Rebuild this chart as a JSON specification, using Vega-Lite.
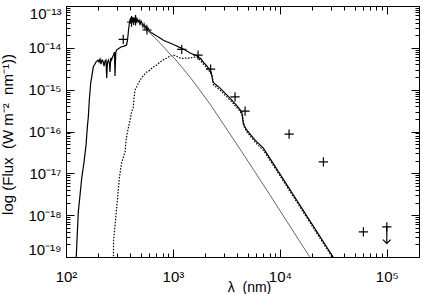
{
  "$schema": "https://vega.github.io/schema/vega-lite/v6.json",
  "width": 353,
  "height": 251,
  "autosize": {"type": "none"},
  "padding": {"left": 66, "top": 6, "right": 2, "bottom": 37},
  "background": "white",
  "config": {"view": {"stroke": null}},
  "datasets": {
    "solid": [
      {"lam":124.0,"flux":7.5e-20},{"lam":130.3,"flux":1.18e-18},{"lam":135.2,"flux":3.0e-18},{"lam":140.3,"flux":7.7e-18},{"lam":147.4,"flux":1.85e-17},{"lam":153.9,"flux":4.73e-17},{"lam":158.9,"flux":1.42e-16},{"lam":161.7,"flux":2.21e-16},{"lam":165.2,"flux":5.64e-16},{"lam":170.2,"flux":1.44e-15},{"lam":180.0,"flux":3.47e-15},{"lam":190.8,"flux":4.57e-15},{"lam":199.3,"flux":5.11e-15},{"lam":203.6,"flux":4.57e-15},{"lam":208.0,"flux":5.40e-15},{"lam":212.5,"flux":4.10e-15},{"lam":217.2,"flux":5.11e-15},{"lam":221.9,"flux":4.83e-15},{"lam":226.7,"flux":3.67e-15},{"lam":231.6,"flux":4.83e-15},{"lam":236.6,"flux":5.11e-15},{"lam":240.2,"flux":1.89e-15},{"lam":244.4,"flux":4.57e-15},{"lam":249.7,"flux":5.11e-15},{"lam":255.2,"flux":4.10e-15},{"lam":257.9,"flux":2.64e-15},{"lam":261.8,"flux":5.70e-15},{"lam":266.4,"flux":5.11e-15},{"lam":272.3,"flux":6.02e-15},{"lam":278.2,"flux":6.72e-15},{"lam":284.2,"flux":7.93e-15},{"lam":287.3,"flux":2.12e-15},{"lam":291.7,"flux":7.51e-15},{"lam":296.8,"flux":8.86e-15},{"lam":306.6,"flux":9.36e-15},{"lam":327.0,"flux":1.045e-14},{"lam":348.9,"flux":1.10e-14},{"lam":368.2,"flux":1.17e-14},{"lam":376.2,"flux":1.54e-14},{"lam":384.4,"flux":2.67e-14},{"lam":392.7,"flux":4.14e-14},{"lam":401.3,"flux":5.16e-14},{"lam":405.6,"flux":3.71e-14},{"lam":410.0,"flux":5.77e-14},{"lam":414.5,"flux":4.14e-14},{"lam":423.4,"flux":5.46e-14},{"lam":428.0,"flux":3.51e-14},{"lam":432.7,"flux":5.16e-14},{"lam":442.1,"flux":4.38e-14},{"lam":446.9,"flux":6.09e-14},{"lam":451.7,"flux":3.92e-14},{"lam":461.5,"flux":4.89e-14},{"lam":471.6,"flux":4.14e-14},{"lam":481.8,"flux":4.62e-14},{"lam":492.3,"flux":3.51e-14},{"lam":503.0,"flux":4.38e-14},{"lam":513.9,"flux":3.92e-14},{"lam":525.1,"flux":3.15e-14},{"lam":536.8,"flux":3.71e-14},{"lam":548.3,"flux":2.82e-14},{"lam":560.2,"flux":3.32e-14},{"lam":572.4,"flux":2.67e-14},{"lam":584.9,"flux":2.98e-14},{"lam":610.6,"flux":2.43e-14},{"lam":680.0,"flux":2.02e-14},{"lam":757.3,"flux":1.716e-14},{"lam":808.0,"flux":1.537e-14},{"lam":862.0,"flux":1.415e-14},{"lam":939.6,"flux":1.302e-14},{"lam":1046,"flux":1.154e-14},{"lam":1209,"flux":9.73e-15},{"lam":1327,"flux":8.62e-15},{"lam":1445,"flux":7.51e-15},{"lam":1610,"flux":6.72e-15},{"lam":1717,"flux":6.19e-15},{"lam":1832,"flux":5.40e-15},{"lam":1954,"flux":4.33e-15},{"lam":2084,"flux":3.67e-15},{"lam":2223,"flux":2.94e-15},{"lam":2272,"flux":2.64e-15},{"lam":2372,"flux":1.52e-15},{"lam":2477,"flux":1.36e-15},{"lam":2759,"flux":1.09e-15},{"lam":3420,"flux":6.30e-16},{"lam":4064,"flux":3.83e-16},{"lam":4401,"flux":2.91e-16},{"lam":4556,"flux":1.50e-16},{"lam":4830,"flux":1.14e-16},{"lam":5861,"flux":6.22e-17},{"lam":7011,"flux":4.01e-17},{"lam":33560,"flux":7.7e-20}
    ],
    "dotted": [
      {"lam":278.0,"flux":7.5e-20},{"lam":278.4,"flux":2.52e-19},{"lam":281.2,"flux":3.15e-19},{"lam":293.6,"flux":1.0e-18},{"lam":303.3,"flux":2.55e-18},{"lam":315.3,"flux":7.68e-18},{"lam":331.9,"flux":1.85e-17},{"lam":356.5,"flux":3.21e-17},{"lam":364.3,"flux":6.22e-17},{"lam":372.1,"flux":8.67e-17},{"lam":382.7,"flux":1.206e-16},{"lam":397.0,"flux":1.874e-16},{"lam":410.0,"flux":2.91e-16},{"lam":426.2,"flux":3.83e-16},{"lam":432.7,"flux":6.30e-16},{"lam":442.1,"flux":9.78e-16},{"lam":461.5,"flux":1.22e-15},{"lam":492.3,"flux":1.70e-15},{"lam":525.1,"flux":2.12e-15},{"lam":568.7,"flux":2.64e-15},{"lam":610.6,"flux":2.94e-15},{"lam":651.3,"flux":3.47e-15},{"lam":705.3,"flux":3.88e-15},{"lam":757.3,"flux":4.57e-15},{"lam":808.0,"flux":5.11e-15},{"lam":875.0,"flux":5.70e-15},{"lam":939.6,"flux":6.36e-15},{"lam":1008.6,"flux":6.72e-15},{"lam":1092,"flux":6.19e-15},{"lam":1191,"flux":5.55e-15},{"lam":1327,"flux":5.70e-15},{"lam":1445,"flux":5.70e-15},{"lam":1576,"flux":6.02e-15},{"lam":1681,"flux":6.02e-15},{"lam":1793,"flux":5.11e-15},{"lam":1954,"flux":3.88e-15},{"lam":2084,"flux":3.29e-15},{"lam":2223,"flux":2.64e-15},{"lam":2322,"flux":2.235e-15},{"lam":2398,"flux":1.29e-15},{"lam":2531,"flux":1.154e-15},{"lam":2818,"flux":9.26e-16},{"lam":3495,"flux":5.34e-16},{"lam":4153,"flux":3.25e-16},{"lam":4478,"flux":2.47e-16},{"lam":4655,"flux":1.274e-16},{"lam":4935,"flux":9.67e-17},{"lam":5989,"flux":5.28e-17},{"lam":7117,"flux":3.40e-17},{"lam":33560,"flux":7.1e-20}
    ],
    "grey": [
      {"lam":492.3,"flux":3.71e-14},{"lam":548.3,"flux":2.98e-14},{"lam":610.6,"flux":2.26e-14},{"lam":680.0,"flux":1.716e-14},{"lam":757.3,"flux":1.30e-14},{"lam":843.7,"flux":9.62e-15},{"lam":939.6,"flux":7.10e-15},{"lam":1046,"flux":5.40e-15},{"lam":1165,"flux":3.88e-15},{"lam":1445,"flux":2.00e-15},{"lam":1793,"flux":9.52e-16},{"lam":2223,"flux":4.52e-16},{"lam":4243,"flux":3.79e-17},{"lam":8096,"flux":3.01e-18},{"lam":20450,"flux":7.51e-20}
    ],
    "phot": [
      {"lam":343,"flux":1.60e-14},{"lam":410,"flux":4.14e-14},{"lam":447,"flux":4.38e-14},{"lam":572,"flux":2.67e-14},{"lam":1209,"flux":9.21e-15},{"lam":1717,"flux":6.72e-15},{"lam":2250,"flux":3.11e-15},{"lam":3809,"flux":6.76e-16},{"lam":4726,"flux":3.08e-16},{"lam":12190,"flux":8.67e-17},{"lam":25530,"flux":1.88e-17},{"lam":60400,"flux":3.99e-19},{"lam":100000,"flux":5.25e-19}
    ],
    "limit": [
      {"lam":100000,"flux":5.25e-19,"flux2":2.1e-19}
    ]
  },
  "layer": [
    {
      "data": {"name": "solid"},
      "mark": {"type": "line", "color": "black", "strokeWidth": 1.2, "clip": true},
      "encoding": {
        "x": {"field": "lam", "type": "quantitative", "scale": {"type": "log", "domain": [100, 200000], "nice": false},
          "axis": {"orient": "bottom", "values": [100,200,300,400,500,600,700,800,900,1000,2000,3000,4000,5000,6000,7000,8000,9000,10000,20000,30000,40000,50000,60000,70000,80000,90000,100000,200000],
            "labelExpr": "abs(log(datum.value)/LN10 - round(log(datum.value)/LN10)) < 0.001 ? '10' + replace(replace(replace(replace(toString(round(log(datum.value)/LN10)), '2', '²'), '3', '³'), '4', '⁴'), '5', '⁵') : ''",
            "tickSize": {"condition": {"test": "abs(log(datum.value)/LN10 - round(log(datum.value)/LN10)) < 0.001", "value": -8}, "value": -4},
            "tickColor": "black", "tickWidth": 1, "domainColor": "black", "domainWidth": 1, "grid": false,
            "labelFont": "Liberation Sans", "labelFontSize": 15, "labelColor": "black", "labelPadding": 20, "labelOverlap": false, "labelFlush": false,
            "title": "λ\u00a0\u00a0(nm)", "titleFont": "Liberation Sans", "titleFontSize": 14, "titleFontWeight": "normal", "titleColor": "black",
            "titleX": 183, "titleY": 23, "titleBaseline": "top"}},
        "y": {"field": "flux", "type": "quantitative", "scale": {"type": "log", "domain": [1e-19, 1e-13], "nice": false},
          "axis": {"orient": "left", "values": [1e-19,2e-19,3e-19,4e-19,5e-19,6e-19,7e-19,8e-19,9e-19,1e-18,2e-18,3e-18,4e-18,5e-18,6e-18,7e-18,8e-18,9e-18,1e-17,2e-17,3e-17,4e-17,5e-17,6e-17,7e-17,8e-17,9e-17,1e-16,2e-16,3e-16,4e-16,5e-16,6e-16,7e-16,8e-16,9e-16,1e-15,2e-15,3e-15,4e-15,5e-15,6e-15,7e-15,8e-15,9e-15,1e-14,2e-14,3e-14,4e-14,5e-14,6e-14,7e-14,8e-14,9e-14,1e-13],
            "labelExpr": "abs(log(datum.value)/LN10 - round(log(datum.value)/LN10)) < 0.001 ? '10' + replace(replace(replace(replace(replace(replace(replace(replace(replace(toString(round(log(datum.value)/LN10)), '-', '⁻'), '1', '¹'), '3', '³'), '4', '⁴'), '5', '⁵'), '6', '⁶'), '7', '⁷'), '8', '⁸'), '9', '⁹') : ''",
            "tickSize": {"condition": {"test": "abs(log(datum.value)/LN10 - round(log(datum.value)/LN10)) < 0.001", "value": -8}, "value": -4},
            "tickColor": "black", "tickWidth": 1, "domainColor": "black", "domainWidth": 1, "grid": false,
            "labelFont": "Liberation Sans", "labelFontSize": 15, "labelColor": "black", "labelPadding": 13, "labelOverlap": false, "labelFlush": true,
            "title": "log\u00a0(Flux\u00a0\u00a0(W\u00a0m⁻²\u00a0\u00a0nm⁻¹))", "titleFont": "Liberation Sans", "titleFontSize": 15, "titleFontWeight": "normal", "titleColor": "black",
            "titleX": -59, "titleY": 128, "titleBaseline": "middle", "titleAngle": -90}}
      }
    },
    {
      "data": {"name": "dotted"},
      "mark": {"type": "line", "color": "black", "strokeWidth": 1.2, "strokeDash": [1.5, 1.5], "clip": true},
      "encoding": {
        "x": {"field": "lam", "type": "quantitative", "scale": {"type": "log", "domain": [100, 200000], "nice": false},
          "axis": {"orient": "top", "values": [100,200,300,400,500,600,700,800,900,1000,2000,3000,4000,5000,6000,7000,8000,9000,10000,20000,30000,40000,50000,60000,70000,80000,90000,100000,200000],
            "labels": false, "title": null,
            "tickSize": {"condition": {"test": "abs(log(datum.value)/LN10 - round(log(datum.value)/LN10)) < 0.001", "value": -8}, "value": -4},
            "tickColor": "black", "tickWidth": 1, "domainColor": "black", "domainWidth": 1, "grid": false}},
        "y": {"field": "flux", "type": "quantitative", "scale": {"type": "log", "domain": [1e-19, 1e-13], "nice": false},
          "axis": {"orient": "right", "values": [1e-19,2e-19,3e-19,4e-19,5e-19,6e-19,7e-19,8e-19,9e-19,1e-18,2e-18,3e-18,4e-18,5e-18,6e-18,7e-18,8e-18,9e-18,1e-17,2e-17,3e-17,4e-17,5e-17,6e-17,7e-17,8e-17,9e-17,1e-16,2e-16,3e-16,4e-16,5e-16,6e-16,7e-16,8e-16,9e-16,1e-15,2e-15,3e-15,4e-15,5e-15,6e-15,7e-15,8e-15,9e-15,1e-14,2e-14,3e-14,4e-14,5e-14,6e-14,7e-14,8e-14,9e-14,1e-13],
            "labels": false, "title": null,
            "tickSize": {"condition": {"test": "abs(log(datum.value)/LN10 - round(log(datum.value)/LN10)) < 0.001", "value": -8}, "value": -4},
            "tickColor": "black", "tickWidth": 1, "domainColor": "black", "domainWidth": 1, "grid": false}}
      }
    },
    {
      "data": {"name": "grey"},
      "mark": {"type": "line", "color": "#666666", "strokeWidth": 1, "clip": true},
      "encoding": {
        "x": {"field": "lam", "type": "quantitative", "scale": {"type": "log", "domain": [100, 200000], "nice": false}, "axis": null},
        "y": {"field": "flux", "type": "quantitative", "scale": {"type": "log", "domain": [1e-19, 1e-13], "nice": false}, "axis": null}
      }
    },
    {
      "data": {"name": "phot"},
      "mark": {"type": "point", "shape": "M-1,0L1,0M0,-1L0,1", "size": 85, "stroke": "black", "strokeWidth": 1.2, "filled": false, "opacity": 1},
      "encoding": {
        "x": {"field": "lam", "type": "quantitative", "scale": {"type": "log", "domain": [100, 200000], "nice": false}, "axis": null},
        "y": {"field": "flux", "type": "quantitative", "scale": {"type": "log", "domain": [1e-19, 1e-13], "nice": false}, "axis": null}
      }
    },
    {
      "data": {"name": "limit"},
      "mark": {"type": "rule", "stroke": "black", "strokeWidth": 1.2},
      "encoding": {
        "x": {"field": "lam", "type": "quantitative", "scale": {"type": "log", "domain": [100, 200000], "nice": false}, "axis": null},
        "y": {"field": "flux", "type": "quantitative", "scale": {"type": "log", "domain": [1e-19, 1e-13], "nice": false}, "axis": null},
        "y2": {"field": "flux2"}
      }
    },
    {
      "data": {"name": "limit"},
      "mark": {"type": "point", "shape": "M-1,-1L0,0L1,-1", "size": 60, "stroke": "black", "strokeWidth": 1.2, "filled": false, "opacity": 1},
      "encoding": {
        "x": {"field": "lam", "type": "quantitative", "scale": {"type": "log", "domain": [100, 200000], "nice": false}, "axis": null},
        "y": {"field": "flux2", "type": "quantitative", "scale": {"type": "log", "domain": [1e-19, 1e-13], "nice": false}, "axis": null}
      }
    }
  ],
  "resolve": {"axis": {"x": "independent", "y": "independent"}}
}
